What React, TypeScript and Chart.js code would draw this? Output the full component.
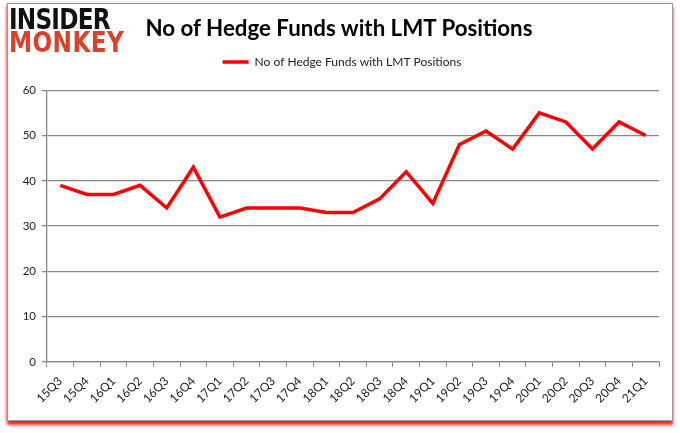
import React, { useEffect, useRef } from "react";
import { Chart, registerables } from "chart.js";

Chart.register(...registerables);

const categories = ["15Q3","15Q4","16Q1","16Q2","16Q3","16Q4","17Q1","17Q2","17Q3","17Q4","18Q1","18Q2","18Q3","18Q4","19Q1","19Q2","19Q3","19Q4","20Q1","20Q2","20Q3","20Q4","21Q1"];
const hedgeFunds = [39,37,37,39,34,43,32,34,34,34,33,33,36,42,35,48,51,47,55,53,47,53,50];
const seriesLabel = "No of Hedge Funds with LMT Positions";
const titleText = "No of Hedge Funds with LMT Positions";

export default function App() {
  const ref = useRef<HTMLCanvasElement | null>(null);
  useEffect(() => {
    document.body.style.margin = "0";
    const ctx = ref.current!;
    const chart = new Chart(ctx, {
      type: "line",
      data: {
        labels: categories,
        datasets: [{
          label: seriesLabel,
          data: hedgeFunds,
          borderColor: "#ff0000",
          backgroundColor: "#ff0000",
          borderWidth: 3.5,
          pointRadius: 0,
          tension: 0,
          yAxisID: "y",
        }],
      },
      options: {
        animation: false,
        responsive: false,
        maintainAspectRatio: false,
        layout: { padding: { left: 0, right: -4, top: 34, bottom: 0 } },
        plugins: {
          title: { display: false },
          subtitle: {
            display: true,
            text: "",
            weight: 500,
            font: { size: 1 },
            padding: { top: 0, bottom: 11 },
          } as any,
          legend: {
            display: true,
            labels: {
              usePointStyle: true,
              pointStyle: "line",
              pointStyleWidth: 26,
              boxWidth: 26,
              color: "#222",
              font: { family: "Lato", size: 12 },
              padding: 22,
            } as any,
          },
          tooltip: { enabled: false },
        },
        scales: {
          x: {
            offset: true,
            afterFit: (s: any) => { s.height = 71; },
            grid: { offset: true, drawOnChartArea: false, drawTicks: true, tickLength: 5, color: "#888" },
            border: { color: "#888", width: 1.3 },
            ticks: { minRotation: 45, maxRotation: 45, color: "#222", font: { family: "Lato", size: 12 }, padding: 7, autoSkip: false },
          },
          y: {
            min: 0,
            max: 60,
            afterFit: (s: any) => { s.width = 47; },
            ticks: { stepSize: 10, color: "#222", font: { family: "Lato", size: 11.5 }, padding: 6 },
            grid: { color: "#888", lineWidth: 1.3, tickLength: 5 },
            border: { color: "#888", width: 1.3 },
          },
          spacer: {
            type: "linear",
            position: "right",
            display: true,
            afterFit: (s: any) => { s.width = 25; },
            ticks: { display: false },
            grid: { display: false, drawTicks: false },
            border: { display: false },
          },
        },
      },
    });
    return () => chart.destroy();
  }, []);

  return (
    <div style={{ position: "relative", width: 680, height: 433, background: "#fff", overflow: "hidden" }}>
      <div style={{ position: "absolute", left: 7, top: 3, width: 664, height: 416, border: "1px solid #999", boxShadow: "0 4px 3px #ff2020, -1px 0 3px #ffbbbb", background: "#fff" }} />
      <canvas ref={ref} width={680} height={433} style={{ position: "absolute", left: 0, top: 0, width: 680, height: 433 }} />
      <div style={{ position: "absolute", left: 0, width: 678, top: 13, textAlign: "center", fontFamily: "Lato", fontWeight: "bold", fontSize: 22.3, lineHeight: "30px", color: "#000" }}>{titleText}</div>
      <div style={{ position: "absolute", left: 9, top: 8, fontFamily: "DejaVu Sans", fontWeight: 900, lineHeight: "23px", fontSize: 29, transform: "scaleX(0.8)", transformOrigin: "left" }}>
        <div style={{ color: "#111", letterSpacing: -1 }}>INSIDER</div>
        <div style={{ color: "#d9412b", letterSpacing: 0.5 }}>MONKEY</div>
      </div>
    </div>
  );
}
